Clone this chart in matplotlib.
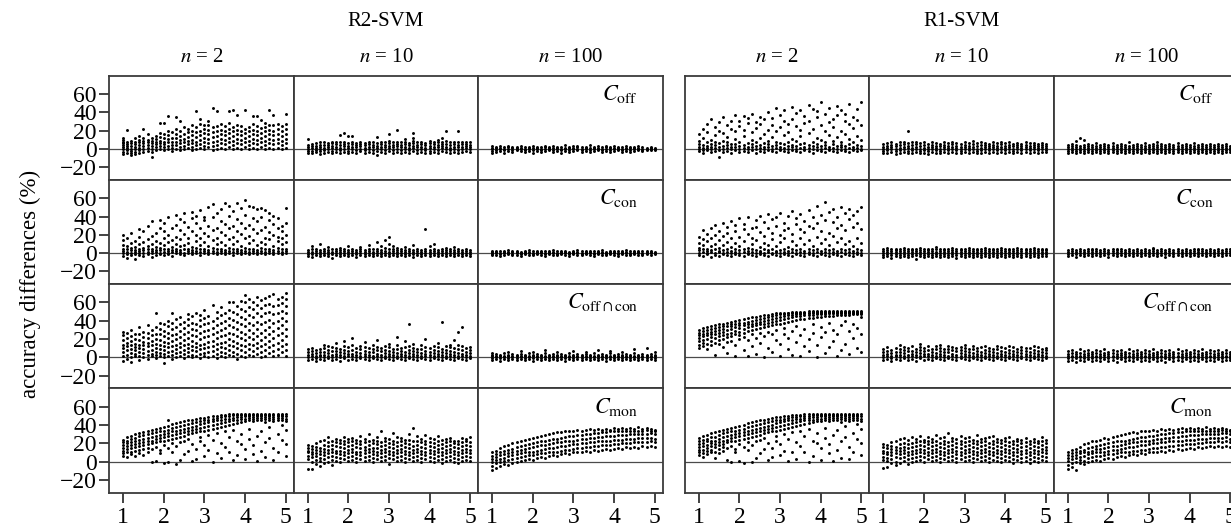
import matplotlib
matplotlib.use('Agg')
import matplotlib.pyplot as plt

plt.rcParams['font.family'] = ['Liberation Serif', 'DejaVu Serif']
plt.rcParams['mathtext.fontset'] = 'stix'

x_cols = [1.0, 1.1, 1.2, 1.3, 1.4, 1.5, 1.6, 1.7, 1.8, 1.9, 2.0, 2.1, 2.2, 2.3,
          2.4, 2.5, 2.6, 2.7, 2.8, 2.9, 3.0, 3.1, 3.2, 3.3, 3.4, 3.5, 3.6, 3.7,
          3.8, 3.9, 4.0, 4.1, 4.2, 4.3, 4.4, 4.5, 4.6, 4.7, 4.8, 4.9, 5.0]
group_titles = ['R2-SVM', 'R1-SVM']
n_labels = ['2', '10', '100']
row_labels = [r'$C_{\mathrm{off}}$', r'$C_{\mathrm{con}}$',
              r'$C_{\mathrm{off}\cap\mathrm{con}}$', r'$C_{\mathrm{mon}}$']
y_ticks = [-20, 0, 20, 40, 60]
x_ticks = [1, 2, 3, 4, 5]
y_label = 'accuracy differences (%)'

# ---------------- R2-SVM ----------------
r2_off_n2 = [[-6,-3,0,2,4,6,8,10,12],[-4,-1,1,3,5,7,21],[-7,-5,-2,0,3,6,9],[-6,-3,0,2,5,8,12],[-4,-1,1,4,7,10,14],
    [-3,0,3,6,9,12,22],[-2,1,4,7,10,16],[-9,-3,0,3,6,9,12],[-1,2,5,8,11,14],[0,3,6,9,13,17,28],
    [-1,2,5,8,12,16,28],[0,3,7,11,15,20,36],[-2,1,4,8,12,18],[0,4,8,12,16,22,35],[-1,2,6,10,14,20,30],
    [0,3,7,11,16,24],[1,5,9,13,18,22],[-1,2,6,10,15,20,26],[0,4,8,13,18,24,41],[1,5,10,15,20,27,33],
    [0,3,7,12,17,22,26],[2,6,11,16,21,26,30],[-1,3,8,13,18,24,45],[0,4,9,14,20,25,41],[1,6,11,16,21,27],
    [0,5,10,15,20,25],[2,7,12,17,22,28,41],[0,4,9,14,19,24,42],[1,6,11,16,21,26,37],[0,5,10,15,20,25],
    [2,7,12,17,22,42],[0,4,9,14,19,24],[1,6,11,16,21,27,36],[0,5,10,15,20,25,36],[2,7,12,17,23,32],
    [0,4,9,14,19,24,28],[1,6,11,16,21,26,43],[0,5,10,15,20,26,37],[1,6,11,16,22,27],[0,4,9,14,19,25],
    [1,6,11,16,22,27,38]]
r2_off_n10 = [[-4,-2,0,2,4,11],[-5,-2,1,3,5],[-3,-1,1,3,6],[-6,-2,0,2,4,7],[-4,-1,1,4,7],
    [-3,0,2,4,6],[-5,-2,1,3,6,8],[-3,0,2,5,7],[-4,-1,1,4,7,15],[-3,0,3,5,8,17],
    [-5,-2,1,3,6,14],[-3,0,2,5,7,14],[-4,-1,2,4,6],[-2,0,3,5,8],[-4,-1,1,4,6],
    [-3,0,2,5,8],[-5,-1,2,4,7],[-7,-2,1,3,6,13],[-3,0,2,5,8],[-4,-1,2,4,7],
    [-2,1,3,6,9,16],[-4,-1,2,4,7],[-3,0,3,5,8,21],[-5,-1,2,4,7],[-3,0,2,5,8,11],
    [-4,-1,1,4,6],[-2,1,3,6,9,12,17],[-4,-1,2,4,7],[-3,0,2,5,8],[-4,-1,1,4,6],
    [-5,-2,1,3,6,9],[-3,0,2,5,8],[-4,-1,2,4,7,10],[-2,1,3,5,8,12],[-3,0,2,5,9,19],
    [-4,-1,1,4,7],[-3,0,2,5,8],[-4,-1,2,4,7,20],[-3,0,2,5,7],[-2,1,3,5,8],
    [-3,0,2,4,7]]
r2_off_n100 = [[-4,-2,0,1,3],[-3,-1,1,2],[-2,0,1,3],[-4,-1,0,2],[-2,0,2,3],
    [-3,-1,1,2],[-1,0,1,2],[-2,0,1,3],[-3,-1,0,2],[-2,0,1,2],
    [-4,-1,1,3],[-2,0,1,2],[-3,-1,0,2],[-2,0,2,3],[-1,0,1,2],
    [-3,-1,1,3],[-2,0,1,2],[-4,-1,0,2],[-2,0,1,4],[-3,-1,1,2],
    [-2,0,1,3],[-1,0,2,3],[-3,-1,0,2],[-2,0,1,2],[-3,-1,1,4],
    [-2,0,1,2],[-1,0,1,3],[-3,-1,0,2],[-2,0,2,3],[-3,-1,1,2],
    [-2,0,1,3],[-1,0,1,2],[-3,-1,0,2],[-2,0,1,3],[-3,-1,1,2],
    [-2,0,1,2],[-1,0,1,3],[-2,-1,0,2],[-1,0,1],[-1,0,1,2],
    [-1,0,1]]
r2_con_n2 = [[-3,0,2,5,9,14,20],[-5,-1,1,4,8,17],[-2,0,3,6,11,22],[-6,-1,1,3,7,13],[-2,0,2,5,10,18,26],
    [-3,0,3,6,12,24],[-1,1,4,8,15,30],[-4,0,2,5,10,19,35],[-2,1,3,7,13,22],[-1,0,3,6,11,27,36],
    [-2,1,4,9,16,24,33],[-1,0,2,5,12,20,40],[-3,1,3,7,14,28],[0,2,5,10,18,31,42],[-1,1,3,8,15,25,37],
    [-2,0,4,9,21,34,44],[0,2,5,11,17,29],[-1,1,3,7,24,38,45],[0,2,6,13,20,33,41],[-2,1,4,9,16,27,47],
    [0,2,5,12,22,36,40],[-1,1,3,8,19,30,50],[0,2,6,14,25,39,54],[-1,1,4,10,17,28,44],[0,2,5,12,23,35,48],
    [-1,1,3,9,20,32,55],[0,2,6,15,27,41,52],[-2,1,4,10,18,30,46],[0,2,5,13,24,37,55],[-1,1,3,8,21,33,49],
    [0,2,6,16,28,42,58],[-1,1,4,11,19,31,52],[0,2,5,14,26,38,50],[-1,1,3,9,22,35,48],[0,2,6,12,25,40,49],
    [-1,1,4,10,17,29,47],[0,2,5,15,23,36,44],[-1,1,3,8,20,32,41],[0,2,6,13,18,27,38],[-1,1,4,10,16,24,30],
    [0,2,5,12,20,33,49]]
r2_con_n10 = [[-3,-1,1,3],[-4,-1,1,4,8],[-2,0,2,5],[-3,-1,1,3,10],[-2,0,2,4],
    [-3,-1,1,3,7],[-5,-1,1,4],[-2,0,2,5],[-3,-1,1,3,6],[-2,0,2,4],
    [-3,-1,1,3,8],[-2,0,2,5],[-4,-1,1,3],[-2,0,2,4,7],[-3,-1,1,3],
    [-2,0,2,5,9],[-3,-1,1,4],[-2,0,2,5,12],[-3,-1,1,3,8],[-2,0,2,6,14],
    [-3,-1,1,4,10,18],[-2,0,2,5,8],[-3,-1,1,3,6],[-2,0,2,4],[-3,-1,1,3,7],
    [-2,0,2,4],[-4,-1,1,3,9],[-2,0,2,5],[-3,-1,1,3],[-2,0,2,4,26],
    [-3,-1,1,3,8],[-2,0,2,5,10],[-3,-1,1,3],[-2,0,2,4],[-3,-1,1,3,6],
    [-2,0,2,4],[-3,-1,1,3,7],[-2,0,2,5],[-3,-1,1,3],[-2,0,2,4],
    [-3,-1,1,3]]
r2_con_n100 = [[-2,-1,0,1,2],[-2,0,1,2],[-3,-1,0,2],[-2,0,1,2],[-1,0,1,3],
    [-2,-1,1,2],[-2,0,1,2],[-3,-1,0,1],[-1,0,1,2],[-2,0,1,3],
    [-2,-1,0,2],[-1,0,1,2],[-2,0,1,2],[-3,-1,0,2],[-1,0,1,2],
    [-2,0,1,3],[-2,-1,0,2],[-1,0,1,2],[-2,0,1,2],[-3,-1,0,1],
    [-1,0,1,2],[-2,0,1,3],[-2,-1,0,2],[-1,0,1,2],[-2,0,1,2],
    [-3,-1,0,2],[-1,0,1,2],[-2,0,1,3],[-2,-1,0,1],[-1,0,1,2],
    [-2,0,1,2],[-3,-1,0,2],[-1,0,1,2],[-2,0,1,3],[-2,-1,0,2],
    [-1,0,1,2],[-2,0,1,2],[-2,-1,0,2],[-1,0,1,2],[-2,0,1,2],
    [-1,0,1]]
r2_oc_n2 = [[-4,2,6,10,14,19,24,28],[-2,3,8,12,16,21,27],[-5,0,5,9,13,18,23,30],[1,4,8,11,15,20,26],[-3,2,6,10,14,19,25,33],
    [0,5,9,13,17,22,28],[-2,3,7,12,16,21,27,35],[1,4,8,13,18,24,30],[-1,3,6,10,15,20,26,33,48],[2,5,9,14,19,25,31,38],
    [-6,0,4,8,12,17,23,29,36],[1,6,11,16,21,27,34,40],[-2,3,7,12,18,24,31,38,48],[0,5,9,14,20,26,33,42],[2,6,11,16,22,29,36,44],
    [-1,4,8,13,19,25,32,39],[1,6,10,15,21,28,35,42,47],[0,3,8,12,18,24,31,38,45],[2,7,11,16,23,30,37,49],[-1,4,9,14,20,27,34,41,46],
    [1,5,10,15,22,29,36,43,52],[0,6,11,17,23,30,38,45],[2,7,12,18,25,32,40,57],[-1,4,9,15,21,28,35,43,50],[1,6,11,16,23,30,38,46,55],
    [0,5,10,17,24,32,40,48],[3,8,14,20,27,35,43,52,60],[1,6,12,18,25,33,41,50,61],[-2,4,10,16,23,31,39,47,56],[2,8,14,21,28,36,44,53,62],
    [0,6,12,19,26,34,42,51,60,68],[3,9,15,22,30,38,46,55,64],[1,7,13,20,27,35,44,53,61],[4,10,16,23,31,39,48,57,66],[0,6,12,19,27,36,45,54,63],
    [2,8,15,22,30,39,48,57,65],[5,11,18,25,33,41,50,58,67],[1,7,14,21,29,38,47,56,69],[3,9,16,24,32,40,49,57,64],[6,12,19,27,35,43,51,59,66],
    [2,8,15,23,31,40,48,56,64,70]]
r2_oc_n10 = [[-3,0,3,6,9],[-2,1,4,7,10],[-4,-1,2,5,8],[-2,1,3,6,9],[-3,0,3,6,10,14],
    [-1,2,5,8,12],[-3,0,3,7,11],[-2,1,4,7,10,16],[-4,0,3,6,9],[-1,2,5,8,12,18],
    [-3,1,4,7,11],[-2,1,4,8,13,21],[-3,0,3,6,10],[-1,2,5,9,12],[-2,1,4,7,11,17],
    [-3,0,3,6,10],[-1,2,6,9,13],[-2,1,4,8,11,19],[-3,0,3,7,10],[-1,2,5,8,12],
    [-2,1,4,7,11,15],[-3,0,3,6,9],[-1,2,5,9,13,22],[-2,1,4,7,10],[-3,0,3,6,11,18],
    [-1,2,5,8,12,36],[-2,1,4,7,10,15],[-3,0,3,6,9],[-1,2,5,9,13],[-2,1,4,7,11,20],
    [-3,0,3,6,10],[-1,2,5,8,12],[-2,1,4,7,11,16],[-3,0,3,6,9,39],[-1,2,5,8,12],
    [-2,1,4,7,11,14],[-3,0,3,6,10,19],[-1,2,5,9,13,28],[-2,1,4,8,12,33],[-3,0,3,6,10],
    [-1,2,5,8,11]]
r2_oc_n100 = [[-3,-1,1,3,5],[-2,0,2,4],[-4,-1,1,3],[-2,0,2,5],[-3,-1,1,3,6],
    [-2,0,2,4],[-3,-1,1,3],[-2,0,2,4,7],[-3,-1,1,3],[-2,0,2,5],
    [-4,-1,1,3,6],[-2,0,2,4],[-3,-1,1,3],[-2,0,2,5,8],[-3,-1,1,3],
    [-2,0,2,4],[-3,-1,1,3,6],[-2,0,2,4],[-4,-1,1,3],[-2,0,2,5],
    [-3,-1,1,3,7],[-2,0,2,4],[-3,-1,1,3],[-2,0,2,4,6],[-3,-1,1,3],
    [-2,0,2,5],[-3,-1,1,3,8],[-2,0,2,4],[-4,-1,1,3],[-2,0,2,5,7],
    [-3,-1,1,3],[-2,0,2,4],[-3,-1,1,3,6],[-2,0,2,4],[-3,-1,1,3],
    [-2,0,2,5,9],[-3,-1,1,3],[-2,0,2,4],[-3,-1,1,3,10],[-2,0,2,4],
    [-3,-1,1,3,6]]
r2_mon_n2 = [[6,9,12,15,18,21,24],[5,10,14,17,20,23,27],[8,11,15,18,21,25,28],[6,12,16,19,22,26,30],[9,13,17,20,24,28,31],
    [7,14,18,21,25,29,32],[10,15,19,22,26,30,34],[0,14,20,23,27,31,35],[1,16,21,25,28,32,36],[9,13,22,26,29,33,37],
    [-1,18,23,27,30,34,38],[0,15,24,28,31,35,39,45],[11,20,25,29,33,37,41],[-3,17,26,30,34,38,42],[2,21,27,31,35,39,43],
    [8,23,28,32,36,40,44],[12,25,30,34,37,41,45],[1,19,31,35,38,42,46],[3,14,32,36,39,43,47],[22,27,33,37,41,44,48],
    [6,18,34,38,42,45,48],[13,29,35,39,43,46,49],[0,24,36,40,44,47,50],[9,31,37,41,45,48,50],[4,20,38,42,46,49,51],
    [16,33,39,43,47,50,51],[11,27,40,44,47,50,52],[2,35,41,45,48,51,52],[7,22,42,46,49,51,52],[19,30,43,47,49,51,52],
    [3,14,44,47,50,51,52],[25,36,45,48,50,51,52],[8,18,44,47,49,51,52],[1,28,45,48,50,51,52],[12,34,45,48,50,51,52],
    [5,21,43,47,49,51,52],[26,38,46,48,50,51,52],[2,15,44,47,49,51,52],[10,30,45,48,50,51,52],[24,40,46,48,50,51,52],
    [6,19,35,44,47,50,52]]
r2_mon_n10 = [[-8,3,6,10,12,15,18],[-8,0,5,8,11,14,17],[-3,2,6,9,13,16,20],[-5,1,4,8,12,15,22],[-2,3,7,11,14,18,24],
    [0,5,9,13,17,21,27],[-4,2,6,10,14,18,23],[1,5,9,12,17,21,25],[0,4,8,12,16,20,24],[3,7,11,15,19,23,27],
    [1,5,9,13,17,21,25],[2,6,10,14,18,22,26],[0,4,8,11,16,20,24],[3,7,11,15,19,23,28],[1,5,9,13,16,21,25],
    [2,6,10,14,18,22,30],[0,4,8,12,15,20,24],[3,7,11,15,19,23,27],[1,5,9,13,17,21,33],[2,6,10,14,18,22,26],
    [-3,4,8,12,16,20,25],[3,7,11,15,19,23,31],[1,5,9,13,17,21,27],[2,6,10,14,18,22,26],[0,4,8,12,16,20,24],
    [3,7,11,15,19,24,30],[1,5,9,13,17,22,37],[2,6,10,14,18,23,28],[0,4,8,12,16,21,25],[3,7,11,15,19,23,29],
    [1,5,9,13,17,21,26],[0,4,8,12,16,20,25],[2,6,10,14,18,22,28],[-1,3,7,11,15,19,24],[1,5,9,13,17,21,25],
    [2,6,10,14,18,22,26],[0,4,8,12,16,20,23],[-2,3,7,11,15,19,22],[1,5,9,13,17,21,26],[2,6,10,14,18,22,25],
    [1,5,9,13,17,21,27]]
r2_mon_n100 = [[-9,-5,0,3,6,10],[-7,-2,2,5,8,12],[-5,0,3,7,10,15],[-3,1,4,8,12,17],[-4,2,6,9,13,18],
    [-1,3,7,11,14,20],[0,4,8,12,16,21],[1,5,9,13,17,23],[2,6,10,14,18,24],[3,7,11,15,19,25],
    [2,7,11,16,20,26],[4,8,12,17,21,27],[5,9,13,18,22,28],[4,9,14,18,23,29],[6,10,15,19,24,30],
    [7,11,15,20,25,31],[6,11,16,21,25,32],[8,12,17,21,26,32],[9,13,17,22,27,33],[8,13,18,23,28,34],
    [10,14,19,23,28,33],[11,15,19,24,29,35],[10,15,20,25,29,34],[12,16,20,25,30,35],[11,16,21,26,30,36],
    [13,17,21,26,31,35],[12,17,22,27,31,36],[13,18,22,27,32,35],[14,18,23,28,32,36],[13,18,23,28,33,35],
    [14,19,24,28,33,37],[15,19,24,29,33,36],[14,20,24,29,34,37],[16,20,25,29,33,36],[15,20,25,30,34,37],
    [16,21,25,30,34,36],[15,21,26,30,34,38],[17,21,26,30,33,36],[16,21,26,30,35,37],[17,22,26,31,34,36],
    [16,21,25,30,33,35]]

# ---------------- R1-SVM ----------------
r1_off_n2 = [[-2,0,2,5,9,16],[-4,-1,1,4,12,22],[-1,1,3,7,18,27],[-3,0,2,5,10,33],[-2,1,4,8,15,24],
    [-9,-1,2,6,20,29],[-3,0,3,9,17,35],[-2,1,4,7,13,26],[-4,0,2,5,22,31],[-1,2,5,11,19,37],
    [-3,0,3,8,25,30],[-2,1,4,14,21,36],[-3,0,2,6,28,34],[-1,2,5,10,18,38],[-4,0,3,7,23,29],
    [-2,1,4,12,27,35],[-3,0,2,6,16,33],[-1,2,5,9,21,40],[-2,0,3,13,26,34],[-3,1,4,8,19,45],
    [-1,0,2,6,24,37],[-2,1,5,15,30,42],[-3,0,3,7,18,27],[-1,2,4,11,33,46],[-2,0,3,9,25,39],
    [-3,1,5,14,21,43],[-1,0,2,6,28,36],[-2,1,4,17,31,48],[-4,0,3,8,22,44],[-1,2,5,12,35,41],
    [-2,0,3,10,26,51],[-3,1,4,7,19,38],[-1,0,2,15,29,45],[-2,1,5,9,24,33],[-3,0,3,13,37,47],
    [-1,2,4,8,20,42],[-2,0,3,16,30,38],[-3,1,5,11,27,49],[-1,0,2,7,23,35],[-2,1,4,14,32,44],
    [-1,0,3,10,26,51]]
r1_off_n10 = [[-4,-2,0,2,5],[-5,-1,1,3,6],[-3,0,2,4,7],[-6,-2,0,3,5],[-4,-1,1,4,7],
    [-3,0,2,5,8],[-5,-2,1,3,6,20],[-4,-1,1,4,7],[-3,0,2,5,8],[-5,-2,0,3,6],
    [-4,-1,1,4,7],[-6,-2,0,2,5],[-3,0,2,4,7],[-4,-1,1,3,6],[-5,-2,0,3,5],
    [-3,0,2,4,7],[-4,-1,1,3,6],[-3,0,2,5,8],[-5,-1,1,3,6],[-4,-2,0,2,5],
    [-3,0,2,4,7],[-4,-1,1,3,6],[-3,0,2,5,9],[-5,-2,0,3,6],[-4,-1,1,4,7],
    [-3,0,2,4,6],[-4,-1,1,3,5],[-3,0,2,4,7],[-5,-1,1,3,6],[-3,0,2,5,8],
    [-4,-1,1,3,6],[-3,0,2,4,7],[-4,-2,0,3,5],[-3,0,2,4,6],[-4,-1,1,3,5],
    [-3,0,2,4,7],[-4,-1,1,3,6],[-3,0,2,4,6],[-4,-1,1,3,5],[-3,0,2,4,6],
    [-3,-1,1,3,5]]
r1_off_n100 = [[-4,-2,0,2,4],[-3,-1,1,3,5],[-5,-2,0,2,4,9],[-3,-1,1,3,12],[-4,-2,0,2,4,10],
    [-3,-1,1,3,5],[-4,-2,0,2,4],[-3,-1,1,3,6],[-4,-2,0,2,4],[-3,-1,1,3,5],
    [-4,-2,0,2,4],[-3,-1,1,3,6],[-5,-2,0,2,4],[-3,-1,1,3,5],[-4,-2,0,2,4],
    [-3,-1,1,3,7],[-4,-2,0,2,4],[-3,-1,1,3,5],[-4,-2,0,2,4],[-3,-1,1,3,6],
    [-4,-2,0,2,4],[-3,-1,1,3,5],[-4,-2,0,2,4,7],[-3,-1,1,3,5],[-5,-2,0,2,4],
    [-3,-1,1,3,5],[-4,-2,0,2,4],[-3,-1,1,3,6],[-4,-2,0,2,4],[-3,-1,1,3,5],
    [-4,-2,0,2,4],[-3,-1,1,3,6],[-4,-2,0,2,4],[-3,-1,1,3,5],[-4,-2,0,2,4],
    [-3,-1,1,3,5],[-4,-2,0,2,4],[-3,-1,1,3,5],[-4,-2,0,2,4],[-3,-1,1,3,5],
    [-3,-1,1,3]]
r1_con_n2 = [[-2,0,3,6,11,18],[-3,1,4,9,15,25],[-1,0,2,5,13,21],[-4,1,3,8,17,28],[-2,0,4,10,20,31],
    [-3,1,2,6,14,24],[-1,0,3,9,19,33],[-2,1,5,12,22,29],[-3,0,2,7,16,35],[-1,1,4,11,24,31],
    [-2,0,3,8,18,38],[-3,1,5,13,26,32],[-1,0,2,6,21,40],[-2,1,4,10,17,28],[-3,0,3,14,29,36],
    [-1,1,2,7,23,41],[-2,0,5,11,19,34],[-3,1,3,9,27,43],[-1,0,4,15,22,37],[-2,1,2,8,30,39],
    [-3,0,3,12,20,44],[-1,1,5,16,25,33],[-2,0,2,7,28,41],[-3,1,4,13,21,46],[-1,0,3,9,32,38],
    [-2,1,5,17,26,43],[-3,0,2,10,23,35],[-1,1,4,14,30,47],[-2,0,3,8,27,40],[-3,1,5,18,33,52],
    [-1,0,2,11,24,42],[-2,1,4,15,36,56],[-3,0,3,9,22,45],[-1,1,5,19,34,48],[-2,0,2,12,28,40],
    [-3,1,4,16,31,50],[-1,0,3,10,25,44],[-2,1,5,13,37,48],[-3,0,2,8,29,42],[-1,1,4,17,33,46],
    [-2,0,3,11,26,50]]
r1_con_n10 = [[-4,-2,0,2,4],[-3,-1,1,3,6],[-5,-2,0,2,4],[-3,-1,1,3,5],[-4,-2,0,2,5],
    [-3,-1,1,3,6],[-4,-2,0,2,4],[-3,-1,1,3,5],[-6,-2,0,2,4],[-3,-1,1,3,6],
    [-4,-2,0,2,4],[-3,-1,1,3,5],[-4,-2,0,2,4],[-3,-1,1,4,7],[-4,-2,0,2,4],
    [-3,-1,1,3,5],[-4,-2,0,2,4],[-3,-1,1,3,6],[-5,-2,0,2,4],[-3,-1,1,3,5],
    [-4,-2,0,2,4],[-3,-1,1,3,6],[-4,-2,0,2,4],[-3,-1,1,3,5],[-4,-2,0,2,5],
    [-3,-1,1,3,6],[-4,-2,0,2,4],[-3,-1,1,3,5],[-4,-2,0,2,4],[-3,-1,1,3,6],
    [-4,-2,0,2,4],[-3,-1,1,3,5],[-4,-2,0,2,4],[-3,-1,1,3,6],[-4,-2,0,2,4],
    [-3,-1,1,3,5],[-4,-2,0,2,4],[-3,-1,1,3,6],[-4,-2,0,2,4],[-3,-1,1,3,5],
    [-3,-1,1,3,5]]
r1_con_n100 = [[-3,-1,1,3],[-2,0,2,4],[-4,-1,1,3],[-2,0,2,5],[-3,-1,1,3],
    [-2,0,2,4],[-3,-1,1,3,5],[-2,0,2,4],[-3,-1,1,3],[-2,0,2,4],
    [-4,-1,1,3],[-2,0,2,4],[-3,-1,1,3,5],[-2,0,2,4],[-3,-1,1,3],
    [-2,0,2,4],[-3,-1,1,3],[-2,0,2,5],[-3,-1,1,3],[-2,0,2,4],
    [-3,-1,1,3],[-2,0,2,4,6],[-3,-1,1,3],[-2,0,2,4],[-4,-1,1,3],
    [-2,0,2,4],[-3,-1,1,3],[-2,0,2,5],[-3,-1,1,3],[-2,0,2,4],
    [-3,-1,1,3],[-2,0,2,4],[-3,-1,1,3,5],[-2,0,2,4],[-3,-1,1,3],
    [-2,0,2,4],[-3,-1,1,3],[-2,0,2,4],[-3,-1,1,3],[-2,0,2,4],
    [-2,0,2,4]]
r1_oc_n2 = [[10,14,18,21,24,27,30],[12,16,19,23,26,29,32],[9,15,20,24,27,30,33],[14,18,22,25,28,31,34],[3,16,21,25,29,32,35],
    [15,19,23,27,30,33,36],[11,20,24,28,31,34,37],[5,17,22,26,30,34,38],[18,23,27,31,34,37,39],[2,14,25,29,33,36,40],
    [20,24,28,32,35,38,41],[8,22,27,31,35,38,42],[1,19,29,33,36,39,43],[12,25,30,34,37,40,44],[4,21,31,35,38,41,44],
    [16,27,32,36,39,42,45],[0,23,33,37,40,43,46],[10,28,34,38,41,44,46],[6,25,35,39,42,45,47],[19,30,36,40,43,46,48],
    [2,15,37,41,44,47,48],[26,32,38,42,45,47,49],[9,21,39,43,46,48,49],[3,29,40,44,46,48,50],[17,34,41,45,47,49,50],
    [1,24,42,45,47,49,50],[12,31,42,46,48,49,50],[7,20,43,46,48,49,51],[27,36,43,46,48,50,51],[0,14,44,47,48,50,51],
    [22,33,44,47,49,50,51],[5,28,45,47,49,50,51],[11,38,45,48,49,50,51],[18,30,45,48,49,50,51],[2,25,46,48,49,50,51],
    [8,35,46,48,49,50,51],[15,40,46,48,49,50,51],[4,29,46,48,49,50,51],[21,37,47,48,49,50,51],[10,32,47,48,49,50,51],
    [6,26,44,47,49,50,51]]
r1_oc_n10 = [[-3,0,3,6,9],[-2,1,4,7,11],[-4,-1,2,5,8],[-2,1,3,6,10],[-3,0,3,6,9,13],
    [-1,2,5,8,11],[-3,0,3,7,10],[-2,1,4,7,12],[-4,0,3,6,9],[-1,2,5,8,11,15],
    [-3,1,4,7,10],[-2,1,4,8,12],[-3,0,3,6,9],[-1,2,5,9,12],[-2,1,4,7,10,14],
    [-3,0,3,6,9],[-1,2,6,9,12],[-2,1,4,8,11],[-3,0,3,7,10],[-1,2,5,8,11],
    [-2,1,4,7,10,13],[-3,0,3,6,9],[-1,2,5,9,12],[-2,1,4,7,10],[-3,0,3,6,11],
    [-1,2,5,8,12],[-2,1,4,7,10],[-3,0,3,6,9],[-1,2,5,9,12],[-2,1,4,7,11],
    [-3,0,3,6,10],[-1,2,5,8,12],[-2,1,4,7,11],[-3,0,3,6,9],[-1,2,5,8,11],
    [-2,1,4,7,10],[-3,0,3,6,10],[-1,2,5,8,12],[-2,1,4,7,11],[-3,0,3,6,9],
    [-1,2,5,8,10]]
r1_oc_n100 = [[-4,-1,2,4,7],[-3,0,2,5,8],[-5,-1,1,4,6],[-3,0,2,5,9],[-4,-1,2,4,7],
    [-2,0,3,5,8],[-4,-1,1,4,6],[-3,0,2,5,8],[-4,-1,2,4,7],[-2,0,3,5,9],
    [-4,-1,1,4,6],[-3,0,2,5,8],[-5,-1,2,4,7],[-2,0,3,5,8],[-4,-1,1,4,6],
    [-3,0,2,5,9],[-4,-1,2,4,7],[-2,0,3,5,8],[-4,-1,1,4,6],[-3,0,2,5,8],
    [-4,-1,2,4,7],[-2,0,3,5,9],[-4,-1,1,4,6],[-3,0,2,5,8],[-5,-1,2,4,7],
    [-2,0,3,5,8],[-4,-1,1,4,6],[-3,0,2,5,9],[-4,-1,2,4,7],[-2,0,3,5,8],
    [-4,-1,1,4,6],[-3,0,2,5,8],[-4,-1,2,4,7],[-2,0,3,5,9],[-4,-1,1,4,6],
    [-3,0,2,5,8],[-4,-1,2,4,7],[-2,0,3,5,8],[-4,-1,1,4,6],[-3,0,2,5,8],
    [-3,-1,2,4,6]]
r1_mon_n2 = [[7,10,13,16,19,22,26],[5,9,13,17,20,24,28],[8,12,15,18,22,25,29],[10,13,17,20,23,27,31],[4,11,16,19,23,27,32],
    [9,14,18,21,25,29,33],[12,16,19,23,27,31,35],[2,15,21,24,28,32,36],[0,17,22,26,29,33,37],[10,14,23,27,30,34,38],
    [1,19,24,28,31,35,39],[-2,16,25,29,32,36,40],[13,21,26,30,34,38,42],[0,18,27,31,35,39,43],[4,22,28,32,36,40,44],
    [9,24,29,33,37,41,45],[14,26,31,35,38,42,46],[2,20,32,36,39,43,47],[5,15,33,37,40,44,48],[23,28,34,38,42,45,49],
    [7,19,35,39,43,46,49],[12,30,36,40,44,47,50],[1,25,37,41,45,48,50],[10,32,38,42,46,49,51],[3,21,39,43,47,49,51],
    [17,34,40,44,47,50,51],[11,28,41,45,48,50,52],[0,36,42,46,48,50,52],[6,23,43,46,49,51,52],[20,31,44,47,49,51,52],
    [2,15,44,47,50,51,52],[26,37,45,48,50,51,52],[9,19,44,47,49,51,52],[1,29,45,48,50,51,52],[13,35,45,48,50,51,52],
    [4,22,43,47,49,51,52],[27,39,46,48,50,51,52],[3,16,44,47,49,51,52],[11,31,45,48,50,51,52],[25,41,46,48,50,51,52],
    [7,20,36,44,47,50,52]]
r1_mon_n10 = [[-7,2,5,9,12,16,19],[-6,1,4,8,11,15,18],[-2,3,7,10,14,17,21],[-4,0,5,9,13,16,23],[-1,4,8,12,15,19,25],
    [1,5,9,13,16,20,26],[-3,3,7,11,15,19,24],[0,4,8,12,16,20,27],[1,5,9,13,17,21,25],[2,6,10,14,18,22,28],
    [0,5,9,13,17,21,24],[3,7,11,15,19,23,27],[1,5,9,13,17,21,25],[2,6,10,14,18,22,29],[0,4,8,12,16,20,26],
    [3,7,11,15,19,23,27],[1,5,9,13,17,21,31],[2,6,10,14,18,22,26],[0,4,8,12,16,20,25],[3,7,11,15,19,23,28],
    [1,5,9,13,17,21,26],[2,6,10,14,18,22,27],[0,4,8,12,16,20,24],[3,7,11,15,19,23,29],[1,5,9,13,17,21,25],
    [2,6,10,14,18,22,26],[0,4,8,12,16,20,27],[2,7,11,15,19,23,28],[1,5,9,13,17,21,25],[0,4,8,12,16,20,24],
    [2,6,10,14,18,22,26],[1,5,9,13,17,21,27],[-1,3,7,11,15,19,23],[2,6,10,14,18,22,25],[0,4,8,12,16,20,24],
    [1,5,9,13,17,21,26],[-2,3,7,11,15,19,22],[1,5,9,13,17,21,25],[0,4,8,12,16,20,23],[2,6,10,14,18,22,27],
    [1,5,9,13,16,20,24]]
r1_mon_n100 = [[-8,-4,1,4,7,11],[-6,-1,3,6,9,13],[-9,0,4,7,11,14],[-2,2,5,9,12,16],[-3,1,6,10,13,19],
    [0,4,8,11,15,20],[1,5,9,12,16,22],[2,6,10,14,17,23],[1,6,10,14,18,24],[3,7,11,15,19,26],
    [4,8,12,16,20,25],[3,8,13,17,21,27],[5,9,13,17,22,28],[6,10,14,18,22,29],[5,10,15,19,23,30],
    [7,11,16,20,24,31],[8,12,16,21,25,32],[7,12,17,21,26,31],[9,13,18,22,27,33],[8,13,18,23,27,34],
    [10,14,19,23,28,33],[11,15,20,24,28,35],[10,15,20,25,29,34],[12,16,21,25,30,36],[11,16,21,26,30,35],
    [13,17,22,26,31,36],[12,17,22,27,31,35],[14,18,23,27,32,36],[13,18,23,28,32,37],[14,19,24,28,33,36],
    [15,19,24,29,33,37],[14,19,24,29,34,36],[16,20,25,29,33,37],[15,20,25,30,34,36],[16,21,25,30,34,38],
    [17,21,26,30,33,36],[16,21,26,30,34,37],[17,22,26,30,34,36],[16,21,26,31,35,37],[17,22,27,31,34,36],
    [16,21,25,30,33,35]]

panels = [
    [[r2_off_n2, r2_off_n10, r2_off_n100],
     [r2_con_n2, r2_con_n10, r2_con_n100],
     [r2_oc_n2, r2_oc_n10, r2_oc_n100],
     [r2_mon_n2, r2_mon_n10, r2_mon_n100]],
    [[r1_off_n2, r1_off_n10, r1_off_n100],
     [r1_con_n2, r1_con_n10, r1_con_n100],
     [r1_oc_n2, r1_oc_n10, r1_oc_n100],
     [r1_mon_n2, r1_mon_n10, r1_mon_n100]],
]

# ---------------- layout (pixels) ----------------
W, H = 1231, 530
group_left = [109.3, 685.0]
pw, ph = 184.5, 104.25
top = 75.7
edge = '#3a3a3a'

fig = plt.figure(figsize=(W / 100, H / 100), dpi=100)

for g in range(2):
    for r in range(4):
        for c in range(3):
            cols = panels[g][r][c]
            x0 = group_left[g] + c * pw
            y0 = top + (r + 1) * ph
            ax = fig.add_axes([x0 / W, 1 - y0 / H, pw / W, ph / H])
            xs, ys = [], []
            for xv, col in zip(x_cols, cols):
                xs.extend([xv] * len(col))
                ys.extend(col)
            ax.axhline(0, color='#4a4a4a', lw=0.9, zorder=1)
            ax.scatter(xs, ys, s=4.5, c='black', linewidths=0, zorder=2)
            ax.set_xlim(0.66, 5.2)
            ax.set_ylim(-34, 80)
            for sp in ax.spines.values():
                sp.set_color(edge)
                sp.set_linewidth(1.3)
            ax.tick_params(direction='out', length=7, width=1.2, color='#222222',
                           labelsize=17, pad=2)
            if g == 0 and c == 0:
                ax.set_yticks(y_ticks)
                ax.set_yticklabels([f'{v}'.replace('-', '\u2212') for v in y_ticks])
            else:
                ax.set_yticks([])
            if r == 3:
                ax.set_xticks(x_ticks)
                ax.set_xticklabels([str(v) for v in x_ticks])
                ax.tick_params(axis='x', pad=3)
            else:
                ax.set_xticks([])
            if c == 2:
                ax.text(0.865, 0.93, row_labels[r], transform=ax.transAxes,
                        ha='right', va='top', fontsize=16)
            if r == 0:
                ax.text(0.5, 1.0 + 18.7 / ph, r'$n$ = ' + n_labels[c],
                        transform=ax.transAxes, ha='center', va='center', fontsize=15)
    gx = (group_left[g] + 1.5 * pw) / W
    fig.text(gx, 1 - 22 / H, group_titles[g], ha='center', va='center', fontsize=15)

fig.text(30 / W, 1 - 284 / H, y_label, rotation=90, ha='center', va='center', fontsize=16.5)

fig.savefig('out.png', dpi=100)
